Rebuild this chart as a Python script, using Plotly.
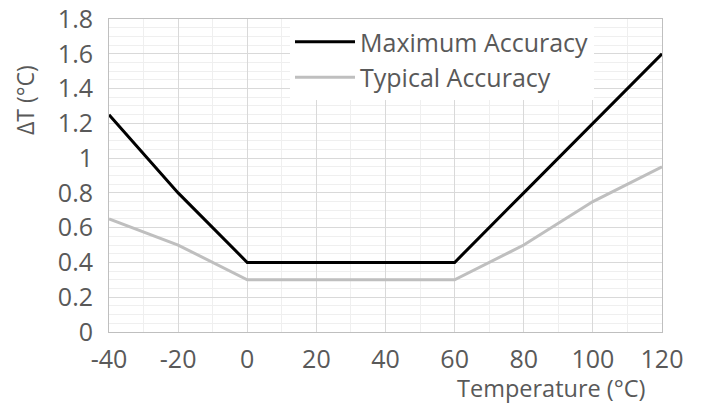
import plotly.graph_objects as go

temps = [-40, -20, 0, 20, 40, 60, 80, 100, 120]
max_acc = [1.25, 0.8, 0.4, 0.4, 0.4, 0.4, 0.8, 1.2, 1.6]
typ_acc = [0.65, 0.5, 0.3, 0.3, 0.3, 0.3, 0.5, 0.75, 0.95]
x_ticks = [-40, -20, 0, 20, 40, 60, 80, 100, 120]
x_tick_text = ["-40", "-20", "0", "20", "40", "60", "80", "100", "120"]
y_ticks = [0, 0.2, 0.4, 0.6, 0.8, 1.0, 1.2, 1.4, 1.6, 1.8]
y_tick_text = ["0", "0.2", "0.4", "0.6", "0.8", "1", "1.2", "1.4", "1.6", "1.8"]

FONT = "Open Sans"
TXT = "#595959"

# plot area at x 109-662, y 19-332 (page body margin removed below)
L, T, R, B = 109, 19, 39, 73
PW, PH = 553, 313

fig = go.Figure()
fig.add_trace(go.Scatter(x=temps, y=max_acc, mode="lines", name="Maximum Accuracy",
                         line=dict(color="#000000", width=3)))
fig.add_trace(go.Scatter(x=temps, y=typ_acc, mode="lines", name="Typical Accuracy",
                         line=dict(color="#bfbfbf", width=3)))

fig.update_layout(
    width=701, height=405,
    margin=dict(l=L, r=R, t=T, b=B),
    paper_bgcolor="white", plot_bgcolor="white",
    font=dict(family=FONT, color=TXT, size=23),
    legend=dict(x=(290 - 109) / PW, y=1, xanchor="left", yanchor="top",
                bgcolor="white", font=dict(size=25, color=TXT),
                tracegroupgap=0, itemwidth=60),
    showlegend=True,
    annotations=[
        dict(text="Temperature (°C)", xref="paper", yref="paper", x=(648 - 109) / PW,
             y=-(388 - 332) / PH, xanchor="right", yanchor="middle", showarrow=False,
             font=dict(size=23.5, color=TXT)),
        dict(text="ΔT (°C)", xref="paper", yref="paper", x=-(109 - 25) / PW,
             y=(332 - 100) / PH, xanchor="center", yanchor="middle", textangle=-90,
             showarrow=False, font=dict(size=23, color=TXT)),
    ],
)
fig.update_xaxes(range=[-40, 120], tickvals=x_ticks, ticktext=x_tick_text, ticks="",
                 automargin=False, ticklabelstandoff=5, ticklabeloverflow="allow",
                 showgrid=True, gridcolor="#d9d9d9", gridwidth=1,
                 minor=dict(dtick=10, showgrid=True, gridcolor="#efefef", gridwidth=1),
                 showline=True, linecolor="#bfbfbf", linewidth=1, mirror=True,
                 zeroline=False, tickfont=dict(size=25, color=TXT))
fig.update_yaxes(range=[0, 1.8], tickvals=y_ticks, ticktext=y_tick_text, ticks="",
                 automargin=False, ticklabelstandoff=10, ticklabeloverflow="allow",
                 showgrid=True, gridcolor="#d9d9d9", gridwidth=1,
                 minor=dict(dtick=0.05, showgrid=True, gridcolor="#efefef", gridwidth=1),
                 showline=True, linecolor="#bfbfbf", linewidth=1, mirror=True,
                 zeroline=False, tickfont=dict(size=25, color=TXT))

fig.write_html("out.html", config={"displayModeBar": False},
               post_script="document.body.style.margin='0';")
